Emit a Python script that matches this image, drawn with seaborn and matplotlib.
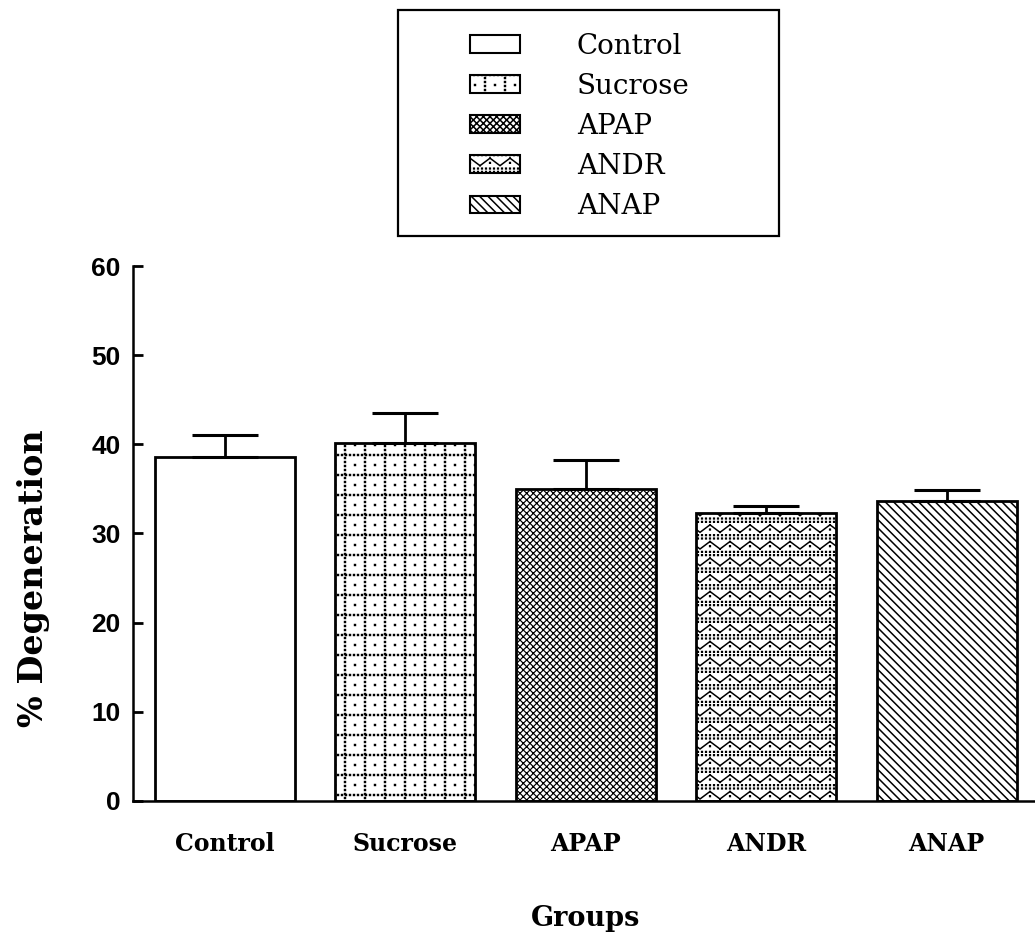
import numpy as np
import pandas as pd
import matplotlib
matplotlib.use("Agg")
import matplotlib.pyplot as plt
import matplotlib.hatch as mhatch
from matplotlib.path import Path
from matplotlib.patches import Patch, Rectangle
from matplotlib import font_manager
import seaborn as sns

# ---------------- data ----------------
groups = ["Control", "Sucrose", "APAP", "ANDR", "ANAP"]
degeneration = [38.6, 40.2, 35.0, 32.3, 33.65]
sem = [2.4, 3.3, 3.2, 0.8, 1.2]
yticks = [0, 10, 20, 30, 40, 50, 60]
hatches = ["", "o", "X", "O", "\\"]
hatch_widths = [1.1, 1.1, 0.85, 1.1, 1.1]

# ---------------- custom hatch patterns (unit tile) ----------------
def seg_path(segs):
    v = np.asarray(segs, float).reshape(-1, 2)
    c = np.tile([Path.MOVETO, Path.LINETO], len(segs)).astype(Path.code_type)
    return v, c


def dot_path(points, r=0.005):
    verts, codes = [], []
    for (x, y) in points:
        verts += [(x - r, y - r), (x + r, y - r), (x + r, y + r), (x - r, y + r), (x - r, y - r)]
        codes += [Path.MOVETO, Path.LINETO, Path.LINETO, Path.LINETO, Path.CLOSEPOLY]
    return np.array(verts, float).reshape(-1, 2), np.array(codes, dtype=Path.code_type)


def join(*parts):
    return (np.concatenate([p[0] for p in parts]),
            np.concatenate([p[1] for p in parts]))


def build_sucrose():
    pts = []
    nl = 5
    lines = [k / nl + 0.05 for k in range(nl)]
    along = [j / 25 + 0.02 for j in range(25)]
    for p in lines:
        for a in along:
            pts.append((a, p))
            pts.append((p, a))
    centers = [k / nl + 0.05 + 0.5 / nl for k in range(nl)]
    for cx in centers:
        for cy in centers:
            pts.append((cx, cy))
    return dot_path(pts, r=0.0045)


def build_apap():
    n = 15
    segs = []
    for k in range(-n, n + 1):
        c = k / n
        segs.append(((0, c), (1, 1 + c)))
        segs.append(((0, c + 1), (1, c)))
    return seg_path(segs)


def build_anap():
    n = 12
    segs = []
    for k in range(0, 2 * n + 1):
        c = k / n
        segs.append(((0, c), (1, c - 1)))
    return seg_path(segs)


def build_andr():
    segs, pts = [], []
    rows, per = 6, 5
    for r in range(rows):
        y0 = r / rows + 0.01
        for p in range(per):
            x = p / per
            segs.append(((x, y0), (x + 0.5 / per, y0 + 0.075)))
            segs.append(((x + 0.5 / per, y0 + 0.075), (x + 1 / per, y0)))
            pts.append((x + 0.5 / per, y0 + 0.028))
        for j in range(25):
            pts.append((j / 25 + 0.02, y0 + 0.105))
            pts.append((j / 25 + 0.02, y0 + 0.138))
    return join(seg_path(segs), dot_path(pts, r=0.0035))


def make_hatch(ch, builder):
    class _H(mhatch.HatchPatternBase):
        def __init__(self, hatch, density):
            if hatch and ch in hatch:
                self.v, self.c = builder()
                self.num_vertices = len(self.v)
            else:
                self.num_vertices = 0

        def set_vertices_and_codes(self, vertices, codes):
            vertices[:] = self.v
            codes[:] = self.c
    return _H


mhatch._hatch_types[:] = [
    make_hatch("o", build_sucrose),
    make_hatch("X", build_apap),
    make_hatch("O", build_andr),
    make_hatch("\\", build_anap),
]

# ---------------- style ----------------
sns.set_theme(style="ticks")
names = {f.name for f in font_manager.fontManager.ttflist}
tick_family = "Liberation Sans Narrow" if "Liberation Sans Narrow" in names else "Liberation Sans"
plt.rcParams["font.family"] = ["DejaVu Serif", "DejaVu Sans"]
plt.rcParams["text.color"] = "black"
plt.rcParams["axes.labelcolor"] = "black"
plt.rcParams["xtick.color"] = "black"
plt.rcParams["ytick.color"] = "black"
plt.rcParams["axes.edgecolor"] = "black"
plt.rcParams["hatch.linewidth"] = 1.1
plt.rcParams["hatch.color"] = "black"

fig = plt.figure(figsize=(10.35, 9.41), dpi=100)
ax = fig.add_axes([0.1285, 0.1488, 0.8715, 0.5685])

df = pd.DataFrame({"Group": groups, "Degeneration": degeneration})
sns.barplot(data=df, x="Group", y="Degeneration", order=groups, ax=ax,
            color="white", edgecolor="black", linewidth=2.0, width=0.776,
            errorbar=None, saturation=1)

for patch, h, hw in zip(ax.patches, hatches, hatch_widths):
    patch.set_facecolor("white")
    patch.set_edgecolor("black")
    if h:
        patch.set_hatch(h)
        if hasattr(patch, "set_hatch_linewidth"):
            patch.set_hatch_linewidth(hw)

ax.errorbar(np.arange(len(groups)), degeneration,
            yerr=[np.zeros(len(sem)), sem], fmt="none", ecolor="black",
            elinewidth=2.0, capsize=23.8, capthick=2.2, zorder=1)

ax.set_xlim(-0.51, 4.49)
ax.set_ylim(0, 60)
ax.set_yticks(yticks)
ax.set_yticklabels([str(t) for t in yticks],
                   fontdict={"family": tick_family, "weight": "bold", "size": 19})
ax.set_xticks(np.arange(len(groups)))
ax.set_xticklabels(groups, fontdict={"family": "DejaVu Serif", "weight": "bold", "size": 17})

ax.tick_params(axis="y", direction="in", length=7, width=2, pad=9, left=True)
ax.tick_params(axis="x", length=0, pad=22, bottom=False)

sns.despine(ax=ax)
for s in ["left", "bottom"]:
    ax.spines[s].set_linewidth(1.8)
    ax.spines[s].set_color("black")

ax.set_xlabel("Groups", fontsize=19.5, fontweight="bold", family="DejaVu Serif")
ax.set_ylabel("% Degeneration", fontsize=24, fontweight="bold", family="DejaVu Serif")
ax.xaxis.set_label_coords(0.502, -0.194)
ax.yaxis.set_label_coords(-0.092, 0.417)

# ---------------- legend ----------------
handles = []
for h, hw in zip(hatches, hatch_widths):
    p = Patch(facecolor="white", edgecolor="black", hatch=h if h else None, linewidth=1.5)
    if h and hasattr(p, "set_hatch_linewidth"):
        p.set_hatch_linewidth(hw)
    handles.append(p)
leg = fig.legend(handles, groups, loc="upper left",
                 bbox_to_anchor=(470 / 1035, 1 - 33 / 941),
                 frameon=False, borderpad=0, borderaxespad=0,
                 handlelength=1.8, handleheight=0.61, handletextpad=2.05,
                 labelspacing=0.47,
                 prop={"family": "DejaVu Serif", "size": 20})

fig.patches.append(Rectangle((398 / 1035, 1 - 236 / 941), 381 / 1035, 226 / 941,
                             transform=fig.transFigure, fill=False,
                             edgecolor="black", linewidth=1.6))

fig.savefig("out.png", dpi=100)
